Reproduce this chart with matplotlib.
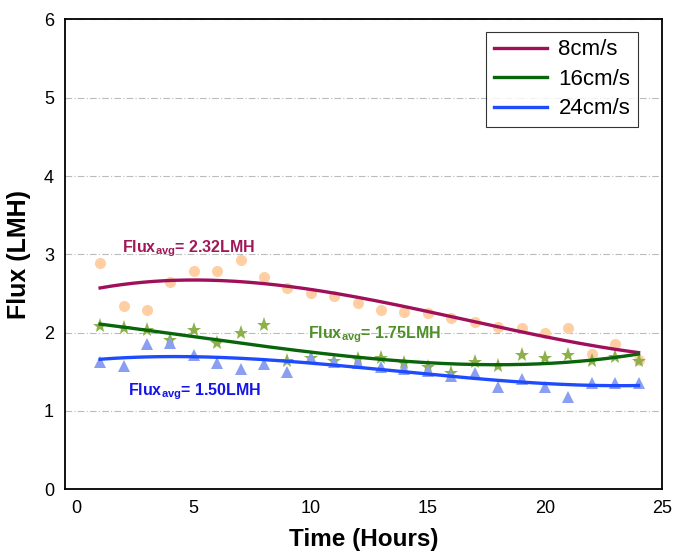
import numpy as np
import matplotlib
matplotlib.use('Agg')
import matplotlib.pyplot as plt

plt.rcParams['font.family'] = ['Liberation Sans', 'DejaVu Sans']
plt.rcParams['mathtext.fontset'] = 'custom'
plt.rcParams['mathtext.rm'] = 'Liberation Sans'
plt.rcParams['mathtext.bf'] = 'Liberation Sans:bold'

# 데이터
hours = list(range(1, 25))
flux_8 = [2.89, 2.34, 2.29, 2.64, 2.78, 2.78, 2.93, 2.71, 2.57, 2.51, 2.47, 2.38,
          2.29, 2.26, 2.25, 2.19, 2.13, 2.07, 2.06, 1.99, 2.06, 1.73, 1.85, 1.65]
flux_16 = [2.08, 2.06, 2.03, 1.91, 2.03, 1.86, 2.00, 2.09, 1.64, 1.67, 1.64, 1.66,
           1.67, 1.61, 1.56, 1.48, 1.62, 1.57, 1.71, 1.68, 1.71, 1.63, 1.69, 1.63]
flux_24 = [1.62, 1.57, 1.85, 1.86, 1.71, 1.61, 1.53, 1.60, 1.49, 1.67, 1.62, 1.61,
           1.56, 1.54, 1.51, 1.45, 1.48, 1.31, 1.40, 1.31, 1.18, 1.36, 1.35, 1.36]
series_names = ['8cm/s', '16cm/s', '24cm/s']
avg_labels = ['2.32LMH', '1.75LMH', '1.50LMH']
label_pos = [(1.92, 3.03), (9.87, 1.93), (2.18, 1.20)]


def main():
    fig = plt.figure(figsize=(6.75, 5.57), dpi=100)
    ax = fig.add_axes([0.0963, 0.122, 0.8844, 0.843])

    x = np.array(hours)
    styles = [
        # marker, size, marker colour, line colour, label colour
        ('o', 8, '#FFCFA3', '#A0105A', '#A0175A'),
        ('*', 11, '#8DB04B', '#0A640A', '#4E8F2A'),
        ('^', 9, '#8A9EF2', '#1F4BFF', '#1515E8'),
    ]
    data = [flux_8, flux_16, flux_24]

    for y, name, lab, pos, st in zip(data, series_names, avg_labels, label_pos, styles):
        marker, ms, mc, lc, tc = st
        ax.plot(x, y, linestyle='none', marker=marker, markersize=ms,
                color=mc, markeredgewidth=0, zorder=2)
        # 3차 다항식 추세선
        coef = np.polyfit(x, y, 3)
        xs = np.linspace(x.min(), x.max(), 200)
        ax.plot(xs, np.polyval(coef, xs), color=lc, linewidth=2.4, label=name, zorder=3)
        ax.text(pos[0], pos[1], r'Flux$_{\mathbf{avg}}$= ' + lab, color=tc,
                fontsize=11.5, fontweight='bold', ha='left', va='baseline', zorder=4)

    ax.set_xlim(-0.5, 25)
    ax.set_ylim(0, 6)
    ax.set_xticks([0, 5, 10, 15, 20, 25])
    ax.set_yticks([0, 1, 2, 3, 4, 5, 6])
    ax.tick_params(length=0, labelsize=13, pad=8)
    ax.yaxis.grid(True, color='#BBBBBB', linewidth=0.8, linestyle=(0, (6, 2, 1, 2)))
    ax.set_axisbelow(True)
    for s in ax.spines.values():
        s.set_linewidth(1.3)
        s.set_color('black')

    ax.set_xlabel('Time (Hours)', fontsize=17.5, fontweight='bold', labelpad=8)
    ax.set_ylabel('Flux (LMH)', fontsize=18, fontweight='bold', labelpad=9)

    leg = ax.legend(loc='upper right', bbox_to_anchor=(0.96, 0.974), borderaxespad=0,
                    fontsize=16, handlelength=2.4, frameon=True, fancybox=False,
                    edgecolor='black', borderpad=0.35, labelspacing=0.38,
                    handletextpad=0.5)
    leg.get_frame().set_linewidth(0.8)

    fig.savefig('out.png', dpi=100)


if __name__ == '__main__':
    main()
